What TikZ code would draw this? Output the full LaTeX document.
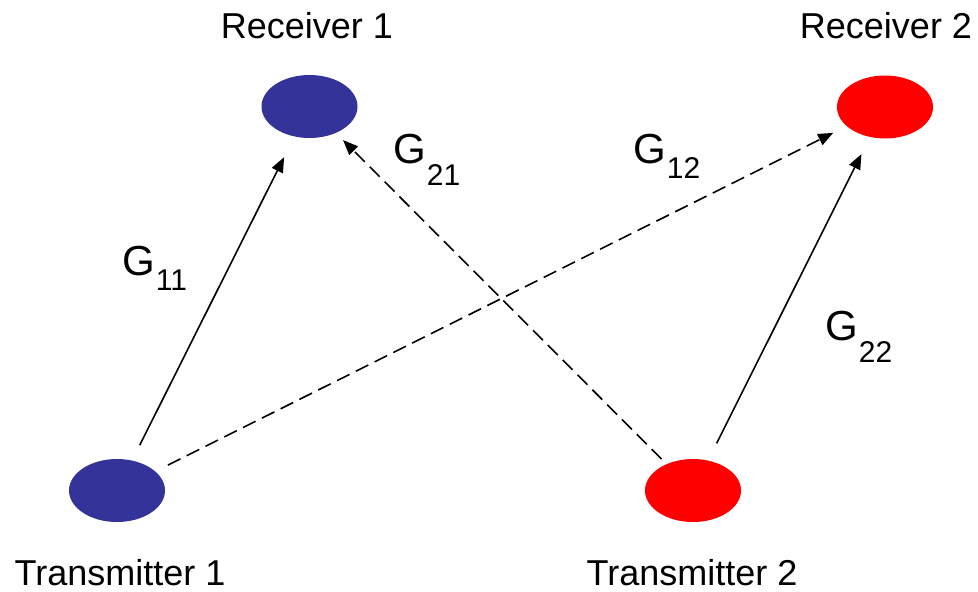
\documentclass[tikz,border=0pt]{standalone}
\usepackage{fontspec}
\setmainfont{Liberation Sans}
\usetikzlibrary{shapes.geometric,arrows.meta}

\definecolor{txblue}{HTML}{333399}
\definecolor{txred}{HTML}{FF0000}

% channel gain label: G with a lowered subscript
\newcommand{\gainlabel}[2]{{\fontsize{42}{42}\selectfont G}\kern1pt\raisebox{-#2pt}{\fontsize{30}{30}\selectfont #1}}

\begin{document}
\begin{tikzpicture}[x=1pt,y=-1pt,
  station/.style={ellipse, draw=none, minimum width=96pt, minimum height=63pt, inner sep=0pt},
  caption/.style={font=\fontsize{36}{40}\selectfont, anchor=base, inner sep=0pt, text depth=0pt},
  gain/.style={anchor=base west, inner sep=0pt},
  link/.style={line width=1.6pt, -{Triangle[length=15pt,width=12pt]}},
  crosslink/.style={link, dash pattern=on 14pt off 7pt}]
  \useasboundingbox (0,0) rectangle (978,592);

  % stations
  \node[station, fill=txblue] (r1) at (309.5,106.5) {};
  \node[station, fill=txred]  (r2) at (885,107) {};
  \node[station, fill=txblue] (t1) at (117,490.5) {};
  \node[station, fill=txred]  (t2) at (693,490.5) {};

  % station names
  \node[caption] (r1name) at (307,38) {Receiver 1};
  \node[caption] (r2name) at (886,38) {Receiver 2};
  \node[caption] (t1name) at (120,585) {Transmitter 1};
  \node[caption] (t2name) at (692,585) {Transmitter 2};

  % direct links
  \draw[link, shorten <=17pt, shorten >=23pt] (t1) -- (r1);
  \draw[link, shorten <=19pt, shorten >=19pt] (t2) -- (r2);
  % interference links
  \draw[crosslink, shorten <=14pt, shorten >=15pt] (t1) -- (r2);
  \draw[crosslink, shorten <=7pt, shorten >=10pt] (t2) -- (r1);

  % gains
  \node[gain] (g11) at (122,275) {\gainlabel{11}{15}};
  \node[gain] (g21) at (393,163) {\gainlabel{21}{22}};
  \node[gain] (g12) at (633,163) {\gainlabel{12}{15}};
  \node[gain] (g22) at (825,340) {\gainlabel{22}{22}};
\end{tikzpicture}
\end{document}
